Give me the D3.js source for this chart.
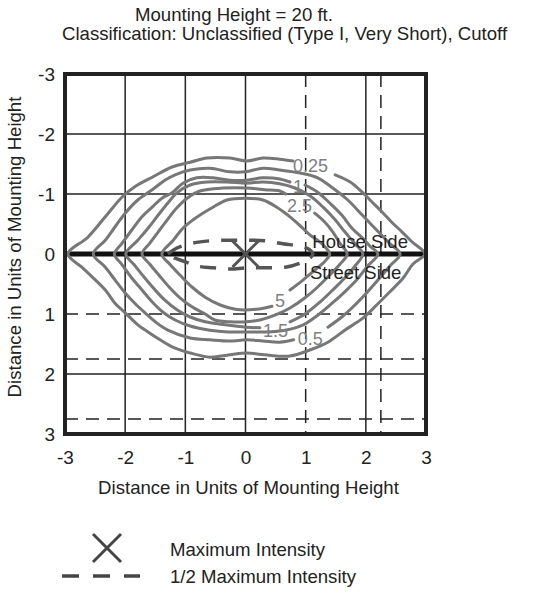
<!DOCTYPE html>
<html>
<head>
<meta charset="utf-8">
<script src="https://cdn.jsdelivr.net/npm/d3@7"></script>
<style>
body { margin: 0; background: #fff; }
text { font-family: Arial, "Liberation Sans", sans-serif; }
</style>
</head>
<body>
<div class="canvas"></div>
<script>
// tick values and grid lines (units of mounting height)
const ticks = [-3, -2, -1, 0, 1, 2, 3]
const gridX = [-2, -1, 0, 2]
const gridY = [-2, -1, 2]
const dashX = [1, 2.25]
const dashY = [1, 1.75, 2.75]

// isofootcandle contours (x, y)
const iso025 = [[1.49,-1.32],[1.74,-1.20],[1.94,-1.03],[2.10,-0.87],[2.27,-0.70],[2.43,-0.53],[2.60,-0.37],[2.77,-0.20],[2.98,0],[2.78,0.17],[2.62,0.40],[2.40,0.63],[2.18,0.85],[1.95,1.07],[1.65,1.27],[1.37,1.47],[1.07,1.60],[0.74,1.70],[0.32,1.68],[0.02,1.65],[-0.26,1.68],[-0.59,1.72],[-0.92,1.65],[-1.17,1.57],[-1.42,1.43],[-1.62,1.30],[-1.79,1.18],[-2.00,0.98],[-2.17,0.82],[-2.33,0.60],[-2.55,0.38],[-2.72,0.22],[-2.95,0],[-2.62,-0.28],[-2.33,-0.62],[-2.05,-0.95],[-1.84,-1.12],[-1.55,-1.28],[-1.22,-1.45],[-0.92,-1.53],[-0.64,-1.60],[-0.26,-1.60],[0.02,-1.55],[0.29,-1.60],[0.57,-1.58],[0.79,-1.55]]
const iso05 = [[1.37,1.22],[1.60,1.05],[1.82,0.85],[2.03,0.63],[2.23,0.40],[2.40,0.20],[2.57,0],[2.37,-0.20],[2.15,-0.43],[1.94,-0.65],[1.70,-0.90],[1.45,-1.10],[1.20,-1.27],[0.91,-1.35],[0.57,-1.40],[0.29,-1.43],[0,-1.37],[-0.26,-1.37],[-0.59,-1.43],[-0.92,-1.40],[-1.17,-1.32],[-1.34,-1.23],[-1.55,-1.07],[-1.79,-0.90],[-2.00,-0.68],[-2.17,-0.45],[-2.33,-0.23],[-2.53,0],[-2.33,0.22],[-2.17,0.43],[-2.00,0.65],[-1.84,0.82],[-1.67,0.98],[-1.50,1.13],[-1.29,1.27],[-0.92,1.40],[-0.59,1.43],[-0.26,1.45],[0.02,1.43],[0.29,1.45],[0.57,1.47],[0.80,1.43]]
const iso1 = [[0.99,-1.15],[1.20,-1.03],[1.40,-0.85],[1.60,-0.65],[1.77,-0.43],[1.94,-0.27],[2.07,-0.13],[2.20,0],[2.03,0.20],[1.85,0.43],[1.65,0.63],[1.44,0.82],[1.20,1.02],[0.96,1.18],[0.66,1.27],[0.32,1.30],[0.02,1.30],[-0.29,1.30],[-0.59,1.27],[-0.92,1.20],[-1.17,1.10],[-1.37,0.97],[-1.55,0.80],[-1.72,0.60],[-1.89,0.40],[-2.05,0.18],[-2.18,0],[-2.05,-0.18],[-1.89,-0.40],[-1.72,-0.62],[-1.55,-0.78],[-1.39,-0.93],[-1.22,-1.02],[-1.04,-1.18],[-0.81,-1.27],[-0.54,-1.27],[-0.26,-1.23],[0.02,-1.23],[0.29,-1.27],[0.57,-1.25],[0.74,-1.20]]
const iso15 = [[0.74,1.13],[0.99,1.00],[1.24,0.80],[1.45,0.60],[1.65,0.40],[1.82,0.20],[1.95,0],[1.82,-0.17],[1.65,-0.37],[1.49,-0.57],[1.29,-0.78],[1.07,-0.97],[0.82,-1.10],[0.57,-1.17],[0.29,-1.20],[0.02,-1.18],[-0.31,-1.20],[-0.64,-1.20],[-0.92,-1.15],[-1.14,-1.02],[-1.29,-0.85],[-1.45,-0.65],[-1.62,-0.43],[-1.79,-0.23],[-1.99,0],[-1.85,0.18],[-1.69,0.38],[-1.52,0.58],[-1.34,0.77],[-1.14,0.93],[-0.92,1.05],[-0.67,1.13],[-0.34,1.18],[0.02,1.22],[0.24,1.23]]
const iso25 = [[1.15,-0.68],[1.32,-0.53],[1.45,-0.37],[1.57,-0.18],[1.69,0],[1.57,0.17],[1.40,0.35],[1.20,0.55],[0.99,0.73],[0.74,0.90],[0.49,1.02],[0.24,1.10],[0.02,1.13],[-0.26,1.13],[-0.51,1.10],[-0.67,1.00],[-0.89,0.88],[-1.09,0.73],[-1.27,0.55],[-1.44,0.35],[-1.59,0.17],[-1.72,0],[-1.59,-0.18],[-1.45,-0.37],[-1.30,-0.57],[-1.14,-0.77],[-0.97,-0.93],[-0.76,-1.05],[-0.37,-1.10],[0.02,-1.10],[0.32,-1.07],[0.57,-1.05],[0.67,-1.00]]
const iso5 = [[0.74,0.60],[0.96,0.43],[1.15,0.27],[1.32,0.12],[1.40,0],[1.27,-0.17],[1.07,-0.32],[0.91,-0.47],[0.74,-0.62],[0.52,-0.78],[0.29,-0.90],[0,-0.93],[-0.31,-0.90],[-0.54,-0.78],[-0.71,-0.68],[-0.87,-0.57],[-1.04,-0.43],[-1.20,-0.23],[-1.39,0],[-1.25,0.18],[-1.09,0.35],[-0.89,0.55],[-0.67,0.72],[-0.42,0.85],[-0.17,0.92],[0.07,0.93],[0.32,0.90],[0.44,0.87]]

// 1/2 maximum intensity contour and maximum point
const halfMax = [[-1.29,0],[-1.14,-0.10],[-0.89,-0.18],[-0.59,-0.22],[-0.26,-0.23],[0.02,-0.23],[0.32,-0.22],[0.62,-0.17],[0.91,-0.13],[1.07,-0.07],[1.12,0],[1.07,0.07],[0.91,0.15],[0.66,0.22],[0.32,0.23],[0.02,0.23],[-0.26,0.25],[-0.54,0.23],[-0.81,0.20],[-1.00,0.13],[-1.17,0.07],[-1.29,0]]
const maxPoint = [0, 0]

const isoLabels = [
    { text: '0.25', x: 0.79, y: -1.37 },
    { text: '1', x: 0.79, y: -1.02 },
    { text: '2.5', x: 0.69, y: -0.70 },
    { text: '5', x: 0.49, y: 0.88 },
    { text: '1.5', x: 0.29, y: 1.38 },
    { text: '0.5', x: 0.87, y: 1.52 }
]

const svg = d3.select('.canvas').append('svg').attr('width', 556).attr('height', 592)

const margins = { top: 74, left: 65 }
const gWidth = 361
const gHeight = 360

const graph = svg.append('g').attr('transform', `translate(${margins.left}, ${margins.top})`)

const x = d3.scaleLinear().domain([-3, 3]).range([0, gWidth])
const y = d3.scaleLinear().domain([-3, 3]).range([0, gHeight])

// grid
graph.selectAll('.gx').data(gridX).enter().append('line')
    .attr('x1', d => x(d)).attr('x2', d => x(d)).attr('y1', 0).attr('y2', gHeight)
    .attr('stroke', '#222').attr('stroke-width', 1.5)
graph.selectAll('.gy').data(gridY).enter().append('line')
    .attr('y1', d => y(d)).attr('y2', d => y(d)).attr('x1', 0).attr('x2', gWidth)
    .attr('stroke', '#222').attr('stroke-width', 1.5)
graph.selectAll('.dx').data(dashX).enter().append('line')
    .attr('x1', d => x(d)).attr('x2', d => x(d)).attr('y1', 0).attr('y2', gHeight)
    .attr('stroke', '#222').attr('stroke-width', 1.5).attr('stroke-dasharray', '13,8')
graph.selectAll('.dy').data(dashY).enter().append('line')
    .attr('y1', d => y(d)).attr('y2', d => y(d)).attr('x1', 0).attr('x2', gWidth)
    .attr('stroke', '#222').attr('stroke-width', 1.5).attr('stroke-dasharray', '13,8')

// street / house divide
graph.append('line')
    .attr('x1', 0).attr('x2', gWidth).attr('y1', y(0)).attr('y2', y(0))
    .attr('stroke', '#111').attr('stroke-width', 5)

// contours
const path = d3.line().x(d => x(d[0])).y(d => y(d[1])).curve(d3.curveCatmullRom.alpha(0.5))

graph.selectAll('.iso').data([iso025, iso05, iso1, iso15, iso25, iso5]).enter().append('path')
    .attr('d', path)
    .attr('fill', 'none').attr('stroke', '#777').attr('stroke-width', 3)
    .attr('stroke-linejoin', 'round').attr('stroke-linecap', 'round')

graph.append('path').datum(halfMax)
    .attr('d', path)
    .attr('fill', 'none').attr('stroke', '#555').attr('stroke-width', 3.5)
    .attr('stroke-dasharray', '16,12')

const mk = 13
graph.append('path')
    .attr('d', `M${x(maxPoint[0]) - mk},${y(maxPoint[1]) - mk}L${x(maxPoint[0]) + mk},${y(maxPoint[1]) + mk}M${x(maxPoint[0]) + mk},${y(maxPoint[1]) - mk}L${x(maxPoint[0]) - mk},${y(maxPoint[1]) + mk}`)
    .attr('stroke', '#555').attr('stroke-width', 3)

graph.selectAll('.lab').data(isoLabels).enter().append('text')
    .attr('x', d => x(d.x)).attr('y', d => y(d.y))
    .attr('fill', '#808080').attr('font-size', 18)
    .text(d => d.text)

graph.append('text').attr('x', x(1.11)).attr('y', y(-0.1)).attr('font-size', 18.5).attr('fill', '#222').text('House Side')
graph.append('text').attr('x', x(1.07)).attr('y', y(0.42)).attr('font-size', 18.5).attr('fill', '#222').text('Street Side')

// frame
graph.append('rect').attr('width', gWidth).attr('height', gHeight)
    .attr('fill', 'none').attr('stroke', '#222').attr('stroke-width', 4)

// axes
const xAxisGroup = graph.append('g').attr('transform', `translate(0, ${gHeight})`)
const yAxisGroup = graph.append('g')
xAxisGroup.call(d3.axisBottom(x).tickValues(ticks).tickSize(0).tickPadding(17).tickFormat(d => String(d)))
yAxisGroup.call(d3.axisLeft(y).tickValues(ticks).tickSize(0).tickPadding(10).tickFormat(d => String(d)))
graph.selectAll('.domain').remove()
graph.selectAll('.tick text').attr('font-size', 19).attr('fill', '#222')
    .attr('font-family', 'Arial, "Liberation Sans", sans-serif')

// titles
svg.append('text').attr('x', 135).attr('y', 21).attr('font-size', 18.6).attr('fill', '#222').text('Mounting Height = 20 ft.')
svg.append('text').attr('x', 62).attr('y', 40).attr('font-size', 18.6).attr('fill', '#222').text('Classification: Unclassified (Type I, Very Short), Cutoff')
svg.append('text').attr('x', margins.left + gWidth / 2 + 3).attr('y', 494).attr('text-anchor', 'middle')
    .attr('font-size', 18.6).attr('fill', '#222').text('Distance in Units of Mounting Height')
svg.append('text').attr('transform', `translate(21, ${margins.top + gHeight / 2 - 7}) rotate(-90)`).attr('text-anchor', 'middle')
    .attr('font-size', 18.6).attr('fill', '#222').text('Distance in Units of Mounting Height')

// legend
const legend = svg.append('g')
legend.append('path').attr('d', 'M93,534L121,562M121,534L93,562').attr('stroke', '#444').attr('stroke-width', 3)
legend.append('line').attr('x1', 62).attr('x2', 140).attr('y1', 576).attr('y2', 576)
    .attr('stroke', '#444').attr('stroke-width', 3.5).attr('stroke-dasharray', '17,14')
legend.append('text').attr('x', 170).attr('y', 556).attr('font-size', 18.6).attr('fill', '#222').text('Maximum Intensity')
legend.append('text').attr('x', 170).attr('y', 583).attr('font-size', 18.6).attr('fill', '#222').text('1/2 Maximum Intensity')
</script>
</body>
</html>
